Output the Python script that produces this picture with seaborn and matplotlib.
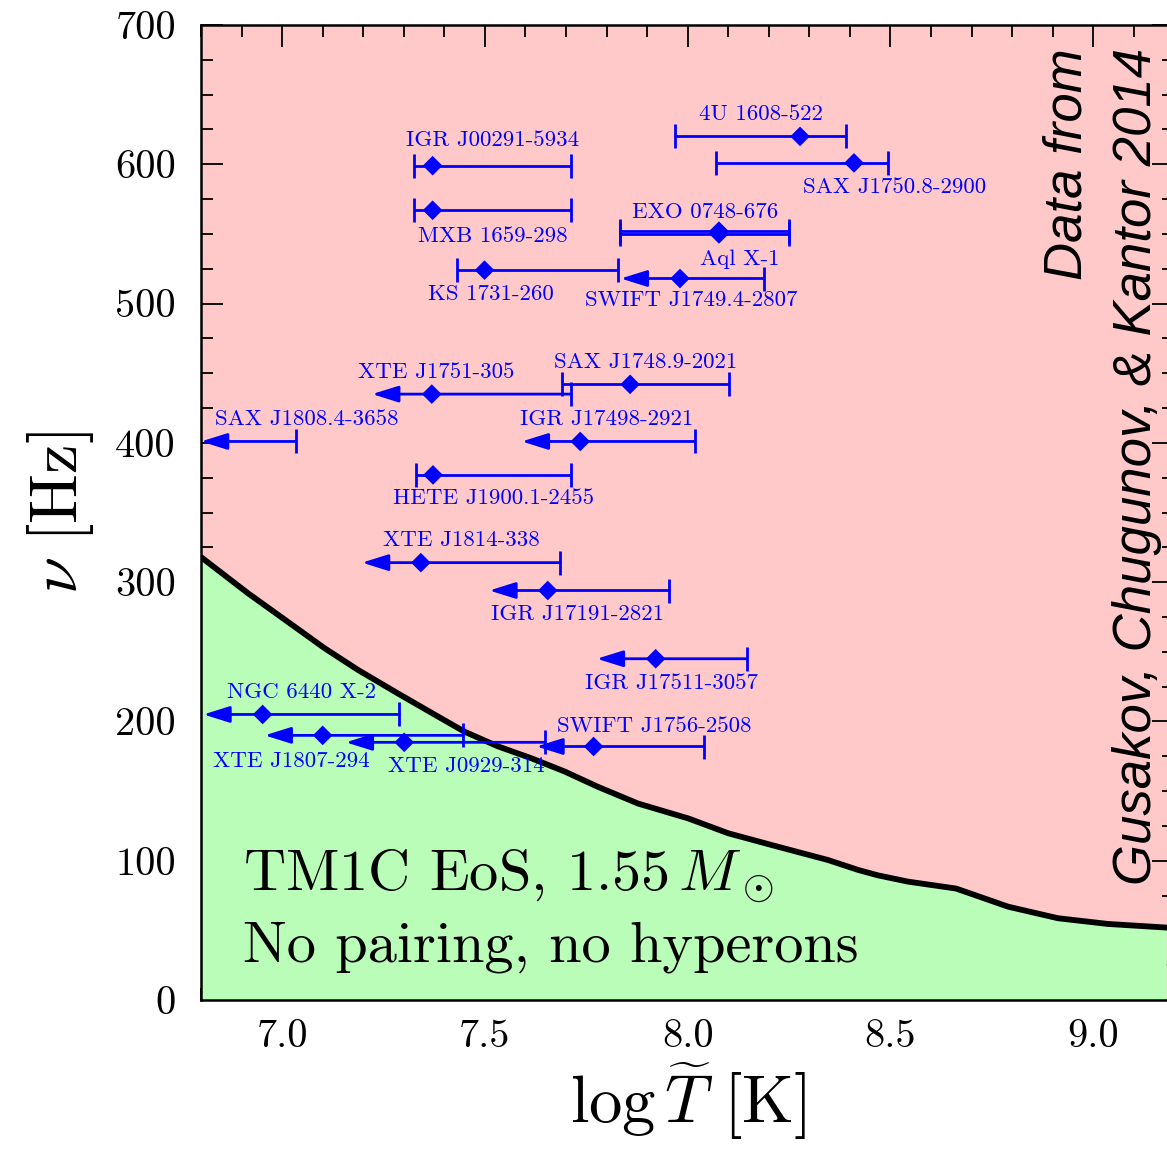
import numpy as np
import pandas as pd
import seaborn as sns
import matplotlib.pyplot as plt
from matplotlib import font_manager
from matplotlib.ticker import MultipleLocator, FormatStrFormatter

# boundary of the r-mode instability window
curve_logT = [6.80, 6.916, 7.007, 7.105, 7.187, 7.286, 7.385, 7.450, 7.533, 7.615,
              7.697, 7.779, 7.878, 8.001, 8.100, 8.223, 8.346, 8.421, 8.469, 8.543,
              8.662, 8.790, 8.913, 9.036, 9.18]
curve_nu = [318, 292, 273, 252.5, 237, 220, 203.4, 192.6, 182, 173.5,
            164, 153, 141, 130.4, 119.7, 110, 100.5, 93.3, 89.5, 85,
            80, 67, 58.7, 54.6, 52]

# LMXB sources: spin frequency, temperature estimate and its range
names = ["IGR J00291-5934", "MXB 1659-298", "KS 1731-260", "4U 1608-522",
         "SAX J1750.8-2900", "EXO 0748-676", "Aql X-1", "SWIFT J1749.4-2807",
         "XTE J1751-305", "SAX J1748.9-2021", "SAX J1808.4-3658", "IGR J17498-2921",
         "HETE J1900.1-2455", "XTE J1814-338", "IGR J17191-2821", "IGR J17511-3057",
         "NGC 6440 X-2", "XTE J1807-294", "XTE J0929-314", "SWIFT J1756-2508"]
nu = [599, 567, 524, 620, 601, 552, 550, 518, 435, 442, 401, 401,
      377, 314, 294, 245, 205, 190, 185, 182]
logT = [7.371, 7.371, 7.499, 8.277, 8.410, 8.077, 8.077, 7.981, 7.369, 7.858, 6.70, 7.735,
        7.372, 7.342, 7.655, 7.921, 6.952, 7.100, 7.301, 7.768]
logT_lo = [7.326, 7.326, 7.432, 7.969, 8.070, 7.833, 7.833, 7.835, 7.222, 7.691, 6.80, 7.591,
           7.329, 7.197, 7.511, 7.776, 6.806, 6.957, 7.157, 7.627]
logT_hi = [7.712, 7.712, 7.827, 8.391, 8.493, 8.250, 8.250, 8.187, 7.712, 8.102, 7.033, 8.017,
           7.712, 7.686, 7.955, 8.146, 7.289, 7.446, 7.648, 8.040]
upper_limit = [False, False, False, False, False, False, False, True, True, False, True, True,
               False, True, True, True, True, True, True, True]

# label centres (layout only)
label_x = [7.519, 7.519, 7.515, 8.180, 8.511, 8.042, 8.128, 8.009, 7.379, 7.896, 7.060, 7.800,
           7.521, 7.441, 7.729, 7.959, 7.047, 7.023, 7.455, 7.918]
label_y = [617, 548.5, 506.7, 635.7, 583.3, 565.4, 532, 502.5, 451, 457.7, 416.8, 416.8,
           359.9, 329.9, 276.6, 227.7, 220.8, 171.7, 168.1, 196.8]

BLUE = "#0000ff"
PINK = "#ffc9c9"
GREEN = "#b9fdb9"

sns.set_style("ticks")
plt.rcParams["font.family"] = ["cmr10", "DejaVu Serif"]
plt.rcParams["mathtext.fontset"] = "cm"
plt.rcParams["axes.unicode_minus"] = False
plt.rcParams["axes.formatter.use_mathtext"] = True
for k in ["text.color", "axes.labelcolor", "xtick.color", "ytick.color", "axes.edgecolor"]:
    plt.rcParams[k] = "black"

fams = {f.name for f in font_manager.fontManager.ttflist}
side_font = "Liberation Sans Narrow" if "Liberation Sans Narrow" in fams else "Liberation Sans"
side_size = 46 if side_font == "Liberation Sans Narrow" else 38

df = pd.DataFrame(dict(name=names, nu=nu, logT=logT, lo=logT_lo, hi=logT_hi, ul=upper_limit))
curve = pd.DataFrame(dict(logT=curve_logT, nu=curve_nu))

fig = plt.figure(figsize=(11.67, 11.6), dpi=100)
ax = fig.add_axes([201 / 1167, 160 / 1160, 973.4 / 1167, 975 / 1160])
ax.set_facecolor(PINK)

ax.fill_between(curve.logT, 0, curve.nu, color=GREEN, lw=0, zorder=1)
sns.lineplot(data=curve, x="logT", y="nu", color="black", lw=4.2, ax=ax, zorder=2)

det = df[~df.ul]
lim = df[df.ul]
lw = 2.0
ax.hlines(det.nu, det.lo, det.hi, color=BLUE, lw=lw, zorder=3)
ax.plot(det.lo, det.nu, ls="none", marker="|", ms=17, mew=lw, color=BLUE, zorder=3)
ax.plot(df.hi, df.nu, ls="none", marker="|", ms=17, mew=lw, color=BLUE, zorder=3)
for _, r in lim.iterrows():
    ax.annotate("", xy=(r.lo, r.nu), xytext=(r.hi, r.nu), annotation_clip=False,
                arrowprops=dict(arrowstyle="-|>,head_length=0.8,head_width=0.25",
                                color=BLUE, lw=lw, shrinkA=0, shrinkB=0,
                                mutation_scale=20), zorder=3)
sns.scatterplot(data=df, x="logT", y="nu", marker="D", s=100, color=BLUE,
                edgecolor="none", ax=ax, zorder=5, clip_on=True)

for name, lx, ly in zip(names, label_x, label_y):
    ax.text(lx, ly, name, color=BLUE, fontsize=16.5, ha="center", va="center", zorder=6)

ax.text(6.904, 79, r"TM1C EoS, 1.55$\,M_\odot$", fontsize=42,
        ha="left", va="baseline", zorder=6)
ax.text(6.904, 27.3, "No pairing, no hyperons", fontsize=42,
        ha="left", va="baseline", zorder=6)

fig.text(1067 / 1167, 1 - 48 / 1160, "Data from", rotation=90, ha="center", va="top",
         family=side_font, style="italic", fontsize=side_size)
fig.text(1137 / 1167, 1 - 48 / 1160, "Gusakov, Chugunov, & Kantor 2014", rotation=90,
         ha="center", va="top", family=side_font, style="italic", fontsize=side_size)

ax.set_xlim(6.8, 9.2)
ax.set_ylim(0, 700)
ax.xaxis.set_major_locator(MultipleLocator(0.5))
ax.xaxis.set_minor_locator(MultipleLocator(0.1))
ax.xaxis.set_major_formatter(FormatStrFormatter("%.1f"))
ax.yaxis.set_major_locator(MultipleLocator(100))
ax.yaxis.set_minor_locator(MultipleLocator(25))
ax.yaxis.set_major_formatter(FormatStrFormatter("%d"))
ax.tick_params(which="both", direction="in", top=True, right=True, width=1.3, labelsize=29)
ax.tick_params(which="major", length=16)
ax.tick_params(which="minor", length=8.5)
ax.tick_params(axis="y", pad=18)
ax.tick_params(axis="x", pad=14)
for s in ax.spines.values():
    s.set_linewidth(1.8)

ax.set_xlabel(r"$\log\widetilde{T}\ [\mathrm{K}]$", fontsize=48, labelpad=4)
ax.set_ylabel(r"$\nu\ [\mathrm{Hz}]$", fontsize=48, labelpad=14)

fig.savefig("out.png", dpi=100)
